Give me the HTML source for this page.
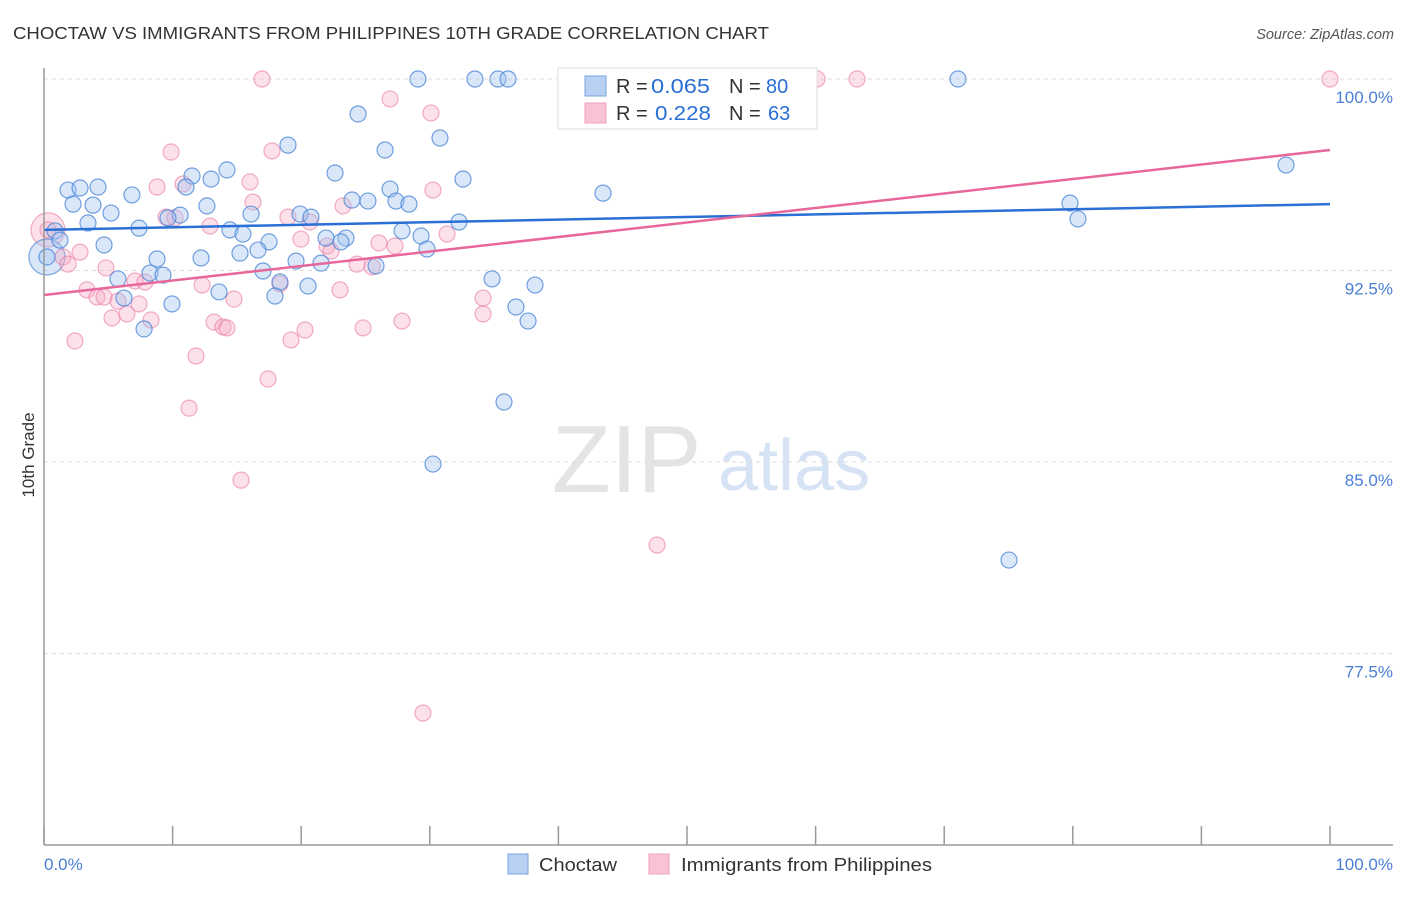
<!DOCTYPE html>
<html><head><meta charset="utf-8"><style>
body{margin:0;background:#fff;font-family:"Liberation Sans",sans-serif}
svg text{font-family:"Liberation Sans",sans-serif}
</style></head><body>
<svg id="chart" width="1406" height="892" xmlns="http://www.w3.org/2000/svg">
<text x="13" y="39" font-size="17.5" fill="#333" textLength="756" lengthAdjust="spacingAndGlyphs">CHOCTAW VS IMMIGRANTS FROM PHILIPPINES 10TH GRADE CORRELATION CHART</text>
<text x="1394" y="39" font-size="14.5" fill="#555" font-style="italic" text-anchor="end">Source: ZipAtlas.com</text>
<g>
<text x="552" y="492" font-size="96" fill="#e4e4e4" font-family="Liberation Serif,serif">ZIP</text>
<text x="718" y="490" font-size="72" fill="#d6e3f5">atlas</text>
</g>
<g id="grid"></g>
<g id="marks"></g>
<g id="axes"></g>
<g>
<rect x="558" y="68" width="259" height="61" fill="#fff" stroke="#ddd"/>
<rect x="585" y="76" width="21" height="20" fill="#b8d1f3" stroke="#7aa3e0"/>
<rect x="585" y="103" width="21" height="20" fill="#f8c4d4" stroke="#eea0ba"/>
<text x="616" y="93" font-size="20" fill="#333">R =</text>
<text x="651" y="93" font-size="20" fill="#2a6fd6" textLength="59" lengthAdjust="spacingAndGlyphs">0.065</text>
<text x="729" y="93" font-size="20" fill="#333">N =</text>
<text x="766" y="93" font-size="20" fill="#2a6fd6">80</text>
<text x="616" y="120" font-size="20" fill="#333">R =</text>
<text x="655" y="120" font-size="20" fill="#2a6fd6" textLength="56" lengthAdjust="spacingAndGlyphs">0.228</text>
<text x="729" y="120" font-size="20" fill="#333">N =</text>
<text x="768" y="120" font-size="20" fill="#2a6fd6">63</text>
</g>
<g>
<rect x="508" y="854" width="20" height="20" fill="#b8d1f3" stroke="#7aa3e0"/>
<text x="539" y="871" font-size="18" fill="#333" textLength="78" lengthAdjust="spacingAndGlyphs">Choctaw</text>
<rect x="649" y="854" width="20" height="20" fill="#f8c4d4" stroke="#eea0ba"/>
<text x="681" y="871" font-size="18" fill="#333" textLength="251" lengthAdjust="spacingAndGlyphs">Immigrants from Philippines</text>
</g>
<text transform="translate(34,455) rotate(-90)" font-size="17" fill="#333" text-anchor="middle">10th Grade</text>
<text x="44" y="870" font-size="17" fill="#4a7fd4">0.0%</text>
<text x="1393" y="870" font-size="17" fill="#4a7fd4" text-anchor="end">100.0%</text>
</svg>
<script>
const yTicks=[100,92.5,85,77.5];
const yTickLabels=["100.0%","92.5%","85.0%","77.5%"];
const xTicks=[0,10,20,30,40,50,60,70,80,90,100];
const blueX=[29.08,33.51,35.30,36.08,45.41,71.07,24.42,30.79,18.97,26.52,22.63,32.58,14.23,11.51,12.99,11.04,1.87,2.80,4.20,6.84,43.47,96.58,26.91,23.95,25.19,27.37,28.38,3.81,2.26,12.67,5.21,10.58,9.64,16.10,19.91,20.76,79.78,80.40,32.27,3.42,7.39,14.46,15.47,27.84,29.32,0.86,1.24,21.93,23.48,23.09,17.50,4.67,16.64,15.24,29.78,8.79,12.21,19.60,21.54,25.82,17.03,8.24,9.25,5.75,34.84,20.53,18.35,38.18,13.61,17.96,6.22,9.95,36.70,37.64,7.78,35.77,30.25,75.04,0.23];
const blueY=[100,100,100,100,100,100,98.63,97.69,97.41,97.22,96.32,96.08,96.44,96.20,96.08,95.77,95.65,95.73,95.77,95.46,95.53,96.63,95.69,95.26,95.22,95.22,95.10,95.06,95.10,95.03,94.75,94.67,94.56,94.71,94.71,94.59,95.14,94.52,94.40,94.36,94.16,94.09,93.93,94.05,93.85,94.05,93.69,93.77,93.77,93.62,93.62,93.50,93.30,93.18,93.34,92.95,92.99,92.87,92.79,92.68,92.48,92.40,92.32,92.17,92.17,91.89,92.05,91.93,91.66,91.50,91.42,91.19,91.07,90.52,90.21,87.35,84.92,81.16,93.03];
const pinkX=[16.95,60.11,63.22,100,26.91,30.09,9.88,17.73,16.02,8.79,10.81,30.25,23.25,16.25,9.49,10.19,18.97,20.68,12.91,0.31,19.98,31.34,26.05,27.29,22.01,22.32,2.80,1.48,1.87,24.34,25.51,4.82,7.08,7.85,12.29,18.35,23.02,3.34,4.12,4.67,5.75,14.77,34.14,7.39,5.29,6.45,8.32,34.14,27.84,13.22,13.92,14.23,24.81,20.30,19.21,2.41,11.82,17.42,11.28,15.32,47.67,29.47];
const pinkY=[100,100,100,100,99.22,98.67,97.14,97.18,95.97,95.77,95.89,95.65,95.03,95.18,94.59,94.56,94.59,94.40,94.24,94.09,93.73,93.93,93.58,93.46,93.46,93.26,93.22,93.03,92.75,92.75,92.64,92.60,92.09,92.05,91.93,91.97,91.74,91.74,91.46,91.46,91.30,91.38,91.42,91.19,90.64,90.80,90.56,90.80,90.52,90.48,90.29,90.25,90.25,90.17,89.78,89.74,89.15,88.25,87.11,84.29,81.75,75.17];
const blueBigX=[0.23], blueBigY=[93.03];
const pinkBigX=[0.31], pinkBigY=[94.09];
const blueTrend=[94.09,95.10];
const pinkTrend=[91.54,97.22];

const NS="http://www.w3.org/2000/svg";
const X=p=>44+p/100*1286;
const Y=v=>79+(100-v)/7.5*191.5;
function mk(tag,attrs,parent){const e=document.createElementNS(NS,tag);for(const k in attrs)e.setAttribute(k,attrs[k]);parent.appendChild(e);return e;}
const grid=document.getElementById('grid'),marks=document.getElementById('marks'),axes=document.getElementById('axes');
yTicks.forEach((t,i)=>{
 const l=mk('line',{x1:44,x2:1393,y1:Y(t),y2:Y(t),stroke:'#ddd','stroke-dasharray':'4,4'},grid);
 
 
 const tx=mk('text',{x:1393,y:Y(t)+24,'font-size':17,fill:'#4a7fd4','text-anchor':'end'},grid);
 tx.textContent=yTickLabels[i];
 
 
});
const ya=mk('line',{x1:44,x2:44,y1:68,y2:845,stroke:'#999','stroke-width':1.5},axes);


const xa=mk('line',{x1:44,x2:1393,y1:845,y2:845,stroke:'#999','stroke-width':1.5},axes);


xTicks.forEach(t=>{
 const l=mk('line',{x1:X(t),x2:X(t),y1:826,y2:845,stroke:'#999','stroke-width':1.5},axes);
 
 
});
function dots(xs,ys,r,fill,stroke,name){
 xs.forEach((x,i)=>{
  const c=mk('circle',{cx:X(x),cy:Y(ys[i]),r:r,fill:fill,stroke:stroke,'stroke-width':1.2},marks);
  
  
 });
}
dots(pinkBigX,pinkBigY,17,'rgba(245,170,195,0.35)','rgba(232,120,160,0.6)','philippines-point-large');
dots(blueBigX,blueBigY,18,'rgba(160,195,240,0.4)','rgba(70,130,215,0.7)','choctaw-point-large');
dots(pinkX,pinkY,8,'rgba(245,170,195,0.35)','rgba(232,120,160,0.6)','philippines-point');
dots(blueX,blueY,8,'rgba(160,195,240,0.4)','rgba(70,130,215,0.75)','choctaw-point');
const bt=mk('line',{x1:X(0),x2:X(100),y1:Y(blueTrend[0]),y2:Y(blueTrend[1]),stroke:'#2a6fd6','stroke-width':2.5},marks);


const pt=mk('line',{x1:X(0),x2:X(100),y1:Y(pinkTrend[0]),y2:Y(pinkTrend[1]),stroke:'#e8679a','stroke-width':2.5},marks);


</script>
</body></html>
